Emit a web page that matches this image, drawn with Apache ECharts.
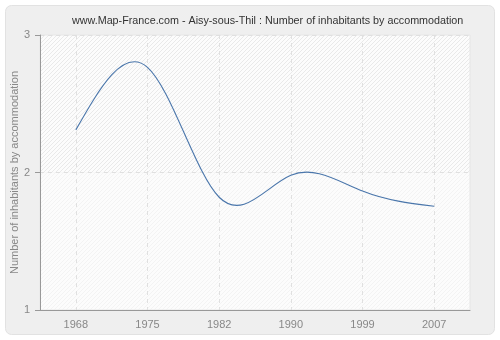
<!DOCTYPE html>
<html>
<head>
<meta charset="utf-8">
<script src="https://cdn.jsdelivr.net/npm/echarts@6/dist/echarts.min.js"></script>
<style>html,body{margin:0;padding:0;background:#fff;}#c{width:500px;height:340px;}</style>
</head>
<body>
<div id="c"></div>
<script>
const years = ['1968', '1975', '1982', '1990', '1999', '2007'];
const inhabitants = [2.31, 2.765, 1.82, 1.98, 1.865, 1.755];
const yTicks = [1, 2, 3];

const FONT = 'Liberation Sans';

function hatch(line, bg) {
  const s = 4;
  const c = document.createElement('canvas');
  c.width = s; c.height = s;
  const g = c.getContext('2d');
  g.fillStyle = bg;
  g.fillRect(0, 0, s, s);
  g.strokeStyle = line;
  g.lineWidth = 1;
  g.beginPath();
  g.moveTo(0, s); g.lineTo(s, 0);
  g.moveTo(-s, s); g.lineTo(s, -s);
  g.moveTo(0, 2 * s); g.lineTo(2 * s, 0);
  g.stroke();
  return { image: c, repeat: 'repeat' };
}

// natural cubic spline slopes on uniform (index) spacing
function splineSlopes(y) {
  const n = y.length - 1;
  const M = new Array(n + 1).fill(0);
  if (n >= 2) {
    const d = [];
    for (let i = 1; i < n; i++) d.push(6 * (y[i + 1] - 2 * y[i] + y[i - 1]));
    const m = d.length, cp = [], dp = [];
    for (let i = 0; i < m; i++) {
      const den = 4 - (i > 0 ? cp[i - 1] : 0);
      cp[i] = 1 / den;
      dp[i] = (d[i] - (i > 0 ? dp[i - 1] : 0)) / den;
    }
    const sol = new Array(m);
    for (let i = m - 1; i >= 0; i--) sol[i] = dp[i] - (i < m - 1 ? cp[i] * sol[i + 1] : 0);
    for (let i = 0; i < m; i++) M[i + 1] = sol[i];
  }
  const s = [];
  for (let i = 0; i < n; i++) s.push((y[i + 1] - y[i]) - (2 * M[i] + M[i + 1]) / 6);
  s.push((y[n] - y[n - 1]) + (M[n - 1] + 2 * M[n]) / 6);
  return s;
}

const slopes = splineSlopes(inhabitants);

function renderCurve(params, api) {
  if (params.dataIndex !== 0) return null;
  const pts = inhabitants.map((v, i) => api.coord([i, v]));
  const y0 = api.coord([0, 0])[1], y1 = api.coord([0, 1])[1];
  const pxPerUnit = y1 - y0;
  let d = 'M' + pts[0][0] + ' ' + pts[0][1];
  for (let i = 0; i < pts.length - 1; i++) {
    const dx = pts[i + 1][0] - pts[i][0];
    const c1x = pts[i][0] + dx / 3, c1y = pts[i][1] + slopes[i] * pxPerUnit / 3;
    const c2x = pts[i + 1][0] - dx / 3, c2y = pts[i + 1][1] - slopes[i + 1] * pxPerUnit / 3;
    d += ' C' + c1x + ' ' + c1y + ' ' + c2x + ' ' + c2y + ' ' + pts[i + 1][0] + ' ' + pts[i + 1][1];
  }
  return {
    type: 'path',
    shape: { pathData: d },
    style: { fill: null, stroke: '#4a76ab', lineWidth: 1.1 }
  };
}

const chart = echarts.init(document.getElementById('c'), null, { renderer: 'canvas' });
chart.setOption({
  animation: false,
  backgroundColor: '#ffffff',
  graphic: [{
    type: 'rect', z: -10,
    shape: { x: 5.5, y: 5.5, width: 489, height: 329, r: 6 },
    style: { fill: '#efefef', stroke: '#e2e2e2', lineWidth: 1 }
  }],
  title: {
    text: 'www.Map-France.com - Aisy-sous-Thil : Number of inhabitants by accommodation',
    left: 67, top: 11,
    textStyle: { fontFamily: FONT, fontSize: 10.75, fontWeight: 'normal', color: '#333' }
  },
  grid: { left: 40, right: 30, top: 35, bottom: 30, containLabel: false, outerBoundsMode: 'none',
    show: true, backgroundColor: 'transparent', borderColor: '#e6e6e6', borderWidth: 1 },
  xAxis: {
    type: 'category', data: years, boundaryGap: true,
    axisLine: { lineStyle: { color: '#999' } },
    axisTick: { alignWithLabel: true, length: 5, lineStyle: { color: '#999' } },
    axisLabel: { color: '#888', fontFamily: FONT, fontSize: 11, margin: 9 },
    splitLine: { show: true, alignWithLabel: true, lineStyle: { color: '#e0e0e0', type: [4, 4] } }
  },
  yAxis: {
    type: 'value', min: 1, max: 3, interval: 1,
    name: 'Number of inhabitants by accommodation', nameLocation: 'middle', nameGap: 20,
    nameMoveOverlap: false,
    nameTextStyle: { color: '#888', fontFamily: FONT, fontSize: 11 },
    axisLine: { show: true, lineStyle: { color: '#999' } },
    axisTick: { show: true, length: 5, lineStyle: { color: '#999' } },
    axisLabel: { color: '#888', fontFamily: FONT, fontSize: 11, margin: 10,
      formatter: v => yTicks.includes(v) ? String(v) : '' },
    splitLine: { show: true, lineStyle: { color: '#e0e0e0', type: [4, 4] } }
  },
  series: [{
    type: 'line', data: [], z: -1, silent: true,
    markArea: {
      silent: true, z: -1,
      data: [
        [{ yAxis: 2, itemStyle: { color: hatch('#e9e9e9', '#fcfcfc') } }, { yAxis: 3 }],
        [{ yAxis: 1, itemStyle: { color: hatch('#f3f3f3', '#fcfcfc') } }, { yAxis: 2 }]
      ]
    }
  }, {
    type: 'custom',
    data: inhabitants.map((v, i) => [i, v]),
    encode: { x: 0, y: 1 },
    renderItem: renderCurve,
    z: 3
  }]
});
</script>
</body>
</html>
